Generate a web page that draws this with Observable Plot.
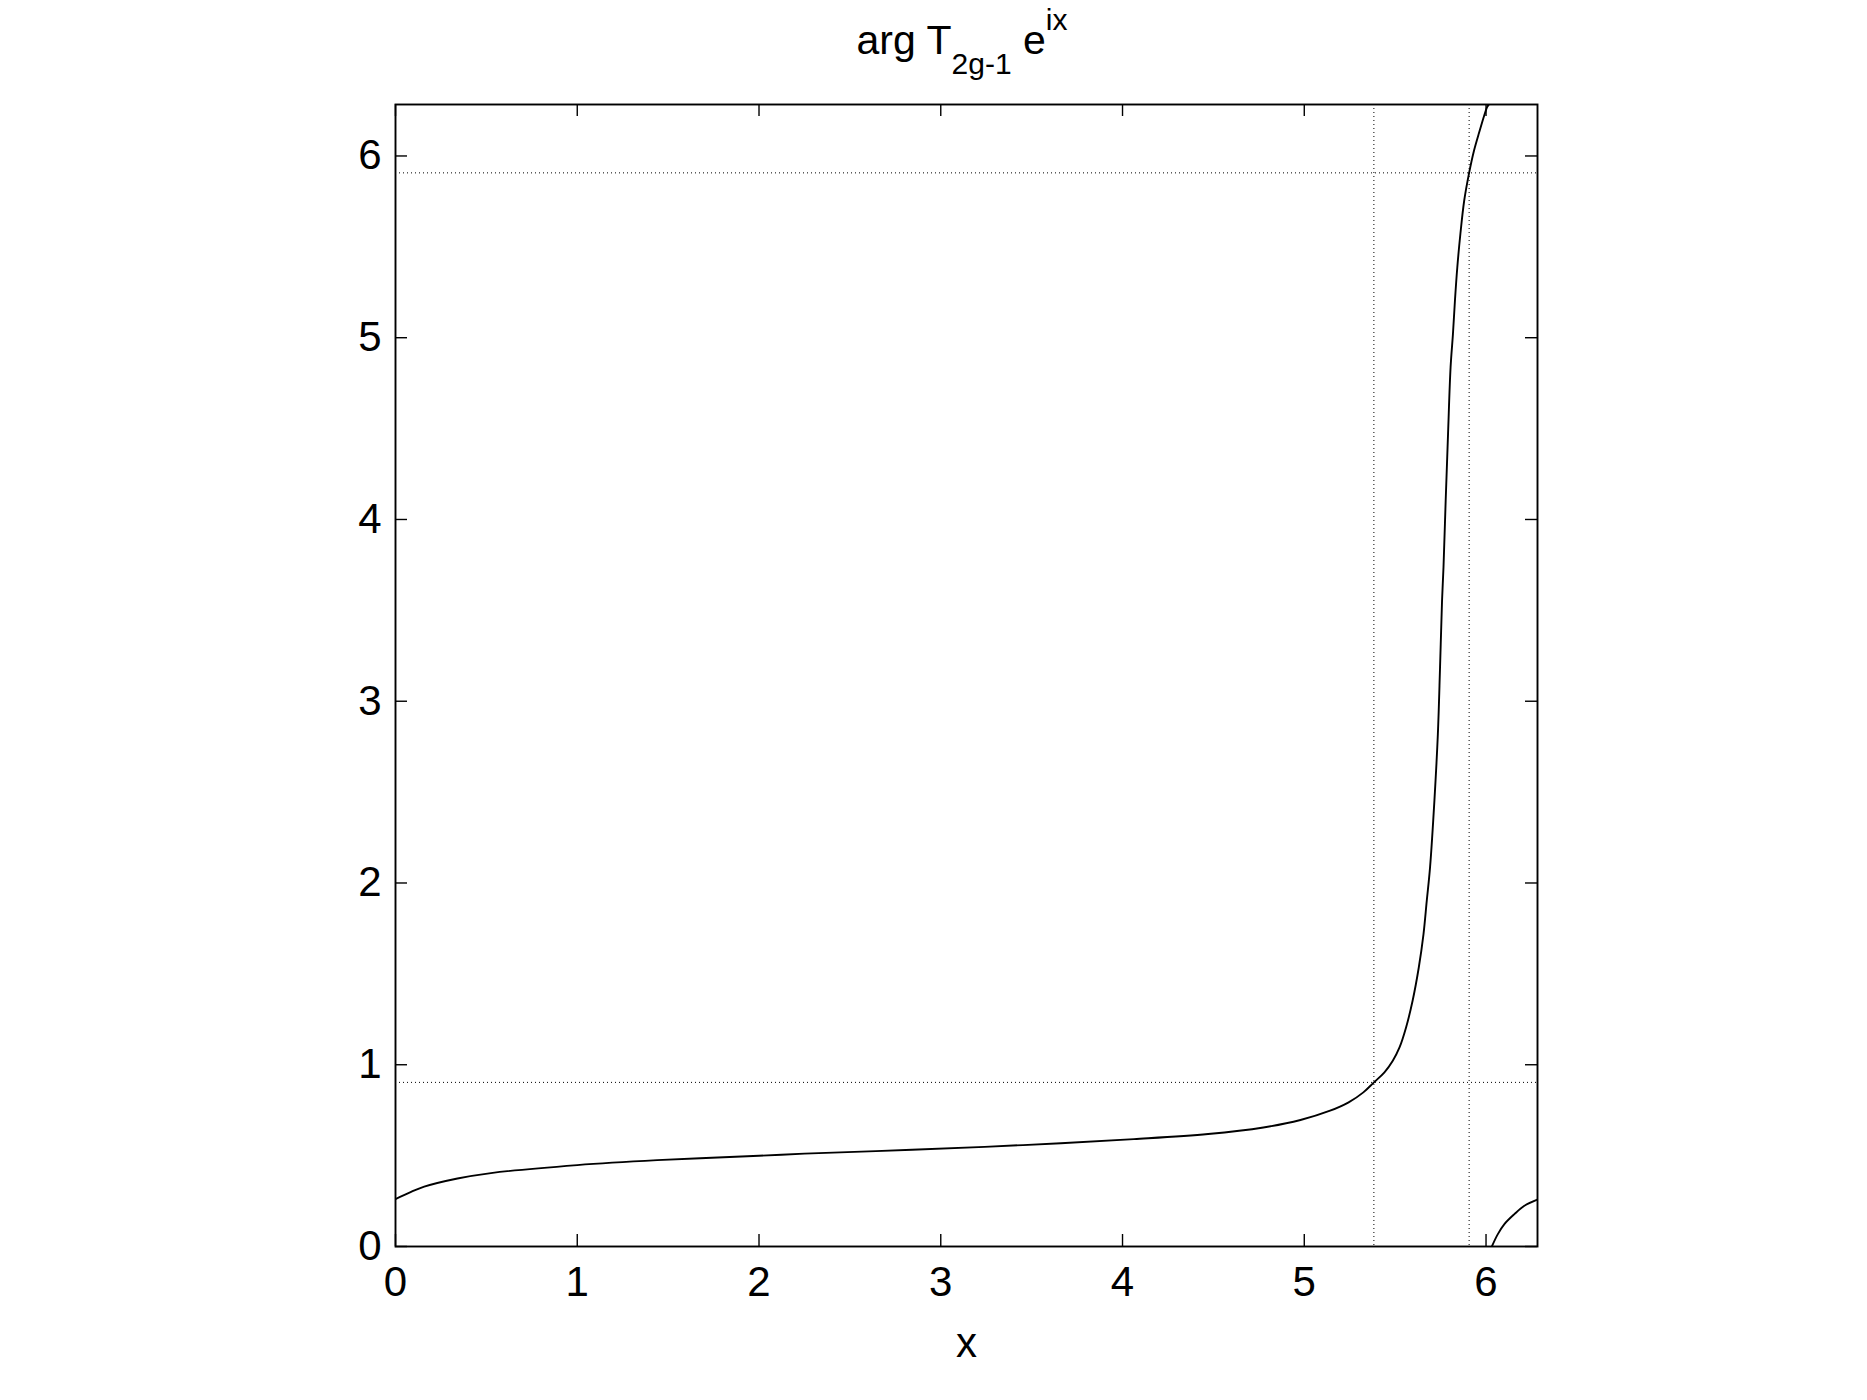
<!DOCTYPE html>
<html><head><meta charset="utf-8">
<script src="https://cdn.jsdelivr.net/npm/d3@7"></script>
<script src="https://cdn.jsdelivr.net/npm/@observablehq/plot@0.6"></script>
<style>body{margin:0;background:#fff;} svg{display:block}</style>
</head><body><div id="chart"></div>
<script>
const TWO_PI = 2 * Math.PI;
const xTicks = [0, 1, 2, 3, 4, 5, 6];
const yTicks = [0, 1, 2, 3, 4, 5, 6];

// main branch of the curve
const branch1X = [0, 0.08, 0.158, 0.341, 0.525, 1.0, 1.44, 2.0, 2.25, 2.842, 3.453, 4.063, 4.471, 4.775, 4.979, 5.142, 5.244, 5.325, 5.383, 5.441, 5.487, 5.524, 5.560, 5.596, 5.630, 5.656, 5.674, 5.692, 5.716, 5.735, 5.747, 5.758, 5.766, 5.778, 5.791, 5.805, 5.818, 5.829, 5.842, 5.859, 5.880, 5.907, 5.934, 5.960, 6.006, 6.015];
const branch1Y = [0.261, 0.298, 0.329, 0.374, 0.404, 0.448, 0.475, 0.499, 0.511, 0.532, 0.558, 0.591, 0.619, 0.655, 0.696, 0.747, 0.793, 0.848, 0.903, 0.958, 1.022, 1.095, 1.205, 1.352, 1.535, 1.719, 1.903, 2.086, 2.453, 2.820, 3.187, 3.554, 3.737, 4.104, 4.471, 4.838, 5.021, 5.205, 5.388, 5.572, 5.755, 5.907, 6.030, 6.122, 6.269, 6.283];
// wrapped branch near the right edge
const branch2X = [6.032, 6.065, 6.101, 6.156, 6.211, 6.283];
const branch2Y = [0.0, 0.068, 0.123, 0.178, 0.224, 0.258];

const vGuides = [5.383, 5.907];
const hGuides = [0.903, 5.907];

const titleMain = "arg T", titleSub = "2g-1", titleMid = " e", titleSup = "ix";
const xLabel = "x";

const curve = [
  ...branch1X.map((x, i) => ({x, y: branch1Y[i], branch: "main"})),
  ...branch2X.map((x, i) => ({x, y: branch2Y[i], branch: "wrap"}))
];

const W = 1867, H = 1400, mL = 395, mR = 330, mT = 104, mB = 154;
const innerW = W - mL - mR, innerH = H - mT - mB;
const tickLen = 12;
const font = "'Liberation Sans', Arial, Helvetica, sans-serif";

const chart = Plot.plot({
  width: W, height: H,
  marginLeft: mL, marginRight: mR, marginTop: mT, marginBottom: mB,
  style: {fontFamily: font, background: "white", color: "black"},
  x: {domain: [0, TWO_PI]},
  y: {domain: [0, TWO_PI]},
  marks: [
    Plot.ruleX(vGuides, {x: d => d, stroke: "black", strokeWidth: 1, strokeDasharray: "1,3"}),
    Plot.ruleY(hGuides, {y: d => d, stroke: "black", strokeWidth: 1, strokeDasharray: "1,3"}),
    Plot.line(curve, {x: "x", y: "y", z: "branch", stroke: "black", strokeWidth: 1.9, curve: "catmull-rom", clip: true}),
    Plot.tickX(xTicks, {x: d => d, insetTop: innerH - tickLen, stroke: "black", strokeWidth: 1.4}),
    Plot.tickX(xTicks, {x: d => d, insetBottom: innerH - tickLen, stroke: "black", strokeWidth: 1.4}),
    Plot.tickY(yTicks, {y: d => d, insetRight: innerW - tickLen, stroke: "black", strokeWidth: 1.4}),
    Plot.tickY(yTicks, {y: d => d, insetLeft: innerW - tickLen, stroke: "black", strokeWidth: 1.4}),
    Plot.frame({stroke: "black", strokeWidth: 1.9}),
    Plot.axisX(xTicks, {anchor: "bottom", tickSize: 0, tickPadding: 20, fontSize: 42, label: null, tickFormat: d => String(d)}),
    Plot.axisY(yTicks, {anchor: "left", tickSize: 0, tickPadding: 14, fontSize: 42, label: null, tickFormat: d => String(d)}),
    Plot.text([xLabel], {text: d => d, frameAnchor: "bottom", dy: 110, fontSize: 42})
  ]
});

const svg = d3.select(chart);
const t = svg.append("text")
  .attr("x", mL + innerW / 2 - 4)
  .attr("y", 54)
  .attr("text-anchor", "middle")
  .attr("font-size", 41)
  .attr("font-family", font)
  .attr("fill", "black");
t.append("tspan").text(titleMain);
t.append("tspan").attr("font-size", 30).attr("dy", 20).text(titleSub);
t.append("tspan").attr("dy", -20).text(titleMid);
t.append("tspan").attr("font-size", 30).attr("dy", -24).text(titleSup);

document.getElementById("chart").appendChild(chart);
</script>
</body></html>
